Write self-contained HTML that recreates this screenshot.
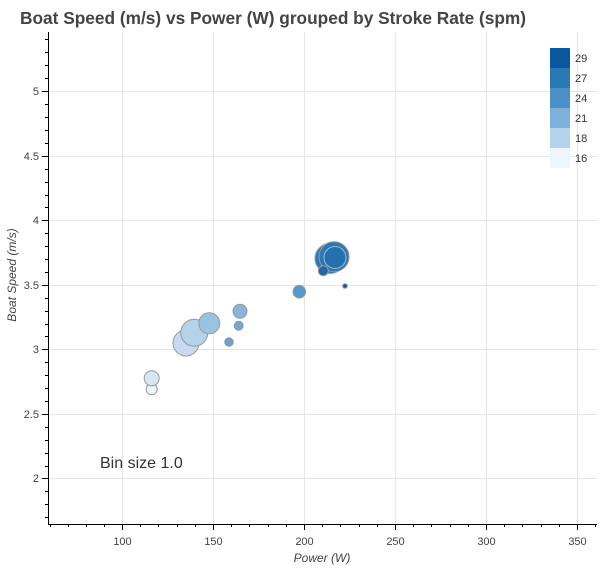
<!DOCTYPE html>
<html><head><style>body{margin:0;background:#fff}svg{display:block}</style></head><body>
<svg width="600" height="570" xmlns="http://www.w3.org/2000/svg" font-family="Liberation Sans, sans-serif">
<rect width="600" height="570" fill="#fff"/>
<text x="20" y="24" font-size="17.3" font-weight="bold" fill="#444">Boat Speed (m/s) vs Power (W) grouped by Stroke Rate (spm)</text>
<g stroke="#e5e5e5" stroke-width="1">
<line x1="122.5" y1="32" x2="122.5" y2="524"/><line x1="213.5" y1="32" x2="213.5" y2="524"/><line x1="304.5" y1="32" x2="304.5" y2="524"/><line x1="395.5" y1="32" x2="395.5" y2="524"/><line x1="486.5" y1="32" x2="486.5" y2="524"/><line x1="577.5" y1="32" x2="577.5" y2="524"/>
<line x1="48" y1="91.5" x2="597" y2="91.5"/><line x1="48" y1="156.5" x2="597" y2="156.5"/><line x1="48" y1="220.5" x2="597" y2="220.5"/><line x1="48" y1="285.5" x2="597" y2="285.5"/><line x1="48" y1="349.5" x2="597" y2="349.5"/><line x1="48" y1="414.5" x2="597" y2="414.5"/><line x1="48" y1="478.5" x2="597" y2="478.5"/>
</g>
<g stroke="#999" stroke-width="1">
<circle cx="151.7" cy="389.3" r="5.5" fill="#eff6fd"/>
<circle cx="151.7" cy="378.3" r="7.5" fill="#d6e6f4"/>
<circle cx="186" cy="343" r="13" fill="#c6dbef"/>
<circle cx="194.3" cy="332.7" r="13.5" fill="#b3d3ea"/>
<circle cx="209.3" cy="323.3" r="10.5" fill="#9ac3e2"/>
<circle cx="240" cy="311.3" r="7" fill="#86b6de"/>
<circle cx="238.7" cy="325.7" r="4.5" fill="#74a9d6"/>
<circle cx="229" cy="342" r="4.3" fill="#6aa3d3"/>
<circle cx="299.3" cy="291.7" r="6.3" fill="#5598cb"/>
<circle cx="330" cy="258.5" r="15" fill="#2b78b3"/>
<circle cx="334" cy="256.7" r="15" fill="#2b78b3"/>
<circle cx="335" cy="257.5" r="11" fill="#2171b0" stroke="#a0b8cc"/>
<circle cx="323.3" cy="270.7" r="5" fill="#1a69a8"/>
<circle cx="345" cy="286" r="2.3" fill="#0c5a9a"/>
</g>
<text x="100" y="468" font-size="16" fill="#333">Bin size 1.0</text>
<g>
<rect x="550" y="48" width="20" height="20" fill="#08589e"/>
<rect x="550" y="68" width="20" height="20" fill="#2b78b3"/>
<rect x="550" y="88" width="20" height="20" fill="#4a90c6"/>
<rect x="550" y="108" width="20" height="20" fill="#7fb2db"/>
<rect x="550" y="128" width="20" height="20" fill="#b5d4ec"/>
<rect x="550" y="148" width="20" height="20" fill="#eff6fd"/>
<g font-size="11" fill="#333">
<text x="575" y="62">29</text><text x="575" y="82">27</text><text x="575" y="102">24</text><text x="575" y="122">21</text><text x="575" y="142">18</text><text x="575" y="162">16</text>
</g></g>
<g stroke="#000" stroke-width="1">
<line x1="48.5" y1="32" x2="48.5" y2="524.5"/>
<line x1="48" y1="524.5" x2="597" y2="524.5"/>
<path d="M122.5 524v6M213.5 524v6M304.5 524v6M395.5 524v6M486.5 524v6M577.5 524v6"/>
<path d="M50.5 524v3M68.5 524v3M86.5 524v3M104.5 524v3M140.5 524v3M158.5 524v3M177.5 524v3M195.5 524v3M231.5 524v3M249.5 524v3M268.5 524v3M286.5 524v3M322.5 524v3M340.5 524v3M359.5 524v3M377.5 524v3M413.5 524v3M431.5 524v3M450.5 524v3M468.5 524v3M504.5 524v3M522.5 524v3M541.5 524v3M559.5 524v3M595.5 524v3"/>
<path d="M42 91.5h6M42 156.5h6M42 220.5h6M42 285.5h6M42 349.5h6M42 414.5h6M42 478.5h6"/>
<path d="M45 39.5h3M45 52.5h3M45 65.5h3M45 78.5h3M45 104.5h3M45 117.5h3M45 130.5h3M45 143.5h3M45 169.5h3M45 182.5h3M45 195.5h3M45 207.5h3M45 233.5h3M45 246.5h3M45 259.5h3M45 272.5h3M45 298.5h3M45 311.5h3M45 324.5h3M45 336.5h3M45 362.5h3M45 375.5h3M45 388.5h3M45 401.5h3M45 427.5h3M45 440.5h3M45 453.5h3M45 466.5h3M45 491.5h3M45 504.5h3M45 517.5h3"/>
</g>
<g font-size="11" fill="#444" text-anchor="middle">
<text x="122.5" y="545">100</text><text x="213.5" y="545">150</text><text x="304.5" y="545">200</text><text x="395.5" y="545">250</text><text x="486.5" y="545">300</text><text x="577.5" y="545">350</text>
</g>
<g font-size="11" fill="#444" text-anchor="end">
<text x="39" y="95">5</text><text x="39" y="160">4.5</text><text x="39" y="224">4</text><text x="39" y="289">3.5</text><text x="39" y="353">3</text><text x="39" y="418">2.5</text><text x="39" y="482">2</text>
</g>
<text x="322" y="562" font-size="12" font-style="italic" fill="#444" text-anchor="middle">Power (W)</text>
<text transform="translate(16,275) rotate(-90)" font-size="12" font-style="italic" fill="#444" text-anchor="middle">Boat Speed (m/s)</text>
</svg>
</body></html>
